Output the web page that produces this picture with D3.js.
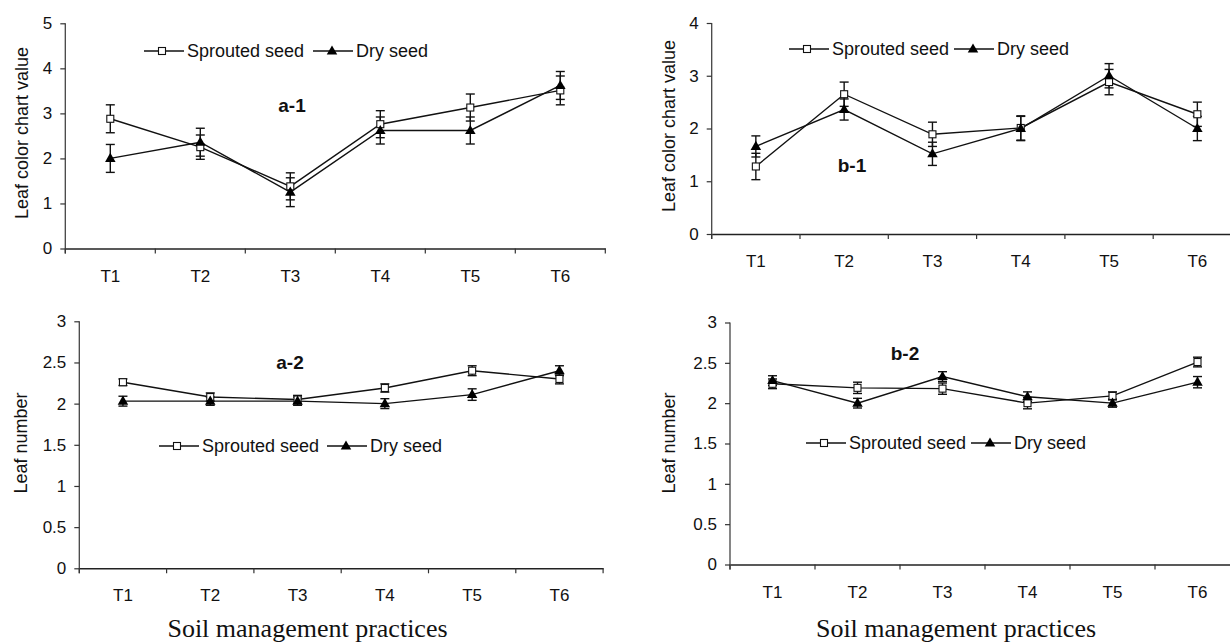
<!DOCTYPE html>
<html>
<head>
<meta charset="utf-8">
<script src="https://cdn.jsdelivr.net/npm/d3@7"></script>
<style>
html,body{margin:0;padding:0;background:#fff;}
svg{display:block;}
text{font-family:"Liberation Sans",Arial,sans-serif;fill:#111;}
</style>
</head>
<body>
<svg id="chart" width="1230" height="643"></svg>
<script>
const categories = ["T1","T2","T3","T4","T5","T6"];

const a1Sprouted = [2.88, 2.25, 1.38, 2.76, 3.13, 3.51];
const a1SproutedErr = [0.31, 0.27, 0.30, 0.30, 0.30, 0.32];
const a1Dry = [2.00, 2.36, 1.25, 2.62, 2.62, 3.62];
const a1DryErr = [0.31, 0.31, 0.32, 0.30, 0.30, 0.31];

const b1Sprouted = [1.28, 2.65, 1.89, 2.01, 2.88, 2.27];
const b1SproutedErr = [0.25, 0.23, 0.23, 0.23, 0.24, 0.23];
const b1Dry = [1.66, 2.36, 1.52, 2.00, 3.00, 2.00];
const b1DryErr = [0.20, 0.20, 0.22, 0.23, 0.23, 0.23];

const a2Sprouted = [2.26, 2.08, 2.05, 2.19, 2.40, 2.30];
const a2SproutedErr = [0.04, 0.05, 0.05, 0.05, 0.06, 0.06];
const a2Dry = [2.03, 2.03, 2.03, 2.00, 2.11, 2.40];
const a2DryErr = [0.06, 0.05, 0.05, 0.06, 0.07, 0.06];

const b2Sprouted = [2.24, 2.19, 2.18, 2.00, 2.09, 2.51];
const b2SproutedErr = [0.06, 0.07, 0.07, 0.07, 0.05, 0.06];
const b2Dry = [2.28, 2.00, 2.33, 2.08, 2.00, 2.26];
const b2DryErr = [0.06, 0.06, 0.06, 0.06, 0.05, 0.07];

const yTicksTop1 = [0,1,2,3,4,5];
const yTicksTop2 = [0,1,2,3,4];
const yTicksBottom = [0,0.5,1,1.5,2,2.5,3];

const seriesNames = ["Sprouted seed","Dry seed"];
const panelLabels = ["a-1","b-1","a-2","b-2"];
const yTitles = ["Leaf color chart value","Leaf number"];
const xTitle = "Soil management practices";

const svg = d3.select("#chart");

const panels = [
  {label:panelLabels[0], sp:a1Sprouted, spE:a1SproutedErr, dr:a1Dry, drE:a1DryErr, ticks:yTicksTop1,
   x0:65.3, bw:90, y0:248.5, yTop:23.3, yTitle:yTitles[0], yTitleX:22, yTitleY:133,
   leg:{sx:162, tx:332, y:51}, lab:{x:292, y:112}, xt:null},
  {label:panelLabels[1], sp:b1Sprouted, spE:b1SproutedErr, dr:b1Dry, drE:b1DryErr, ticks:yTicksTop2,
   x0:711.7, bw:88.3, y0:234, yTop:23, yTitle:yTitles[0], yTitleX:669, yTitleY:126,
   leg:{sx:807, tx:973, y:49}, lab:{x:852, y:172}, xt:null},
  {label:panelLabels[2], sp:a2Sprouted, spE:a2SproutedErr, dr:a2Dry, drE:a2DryErr, ticks:yTicksBottom,
   x0:79.3, bw:87.3, y0:568.3, yTop:321.3, yTitle:yTitles[1], yTitleX:21, yTitleY:443,
   leg:{sx:177, tx:346, y:446}, lab:{x:290, y:369}, xt:{x:307.5, y:637}},
  {label:panelLabels[3], sp:b2Sprouted, spE:b2SproutedErr, dr:b2Dry, drE:b2DryErr, ticks:yTicksBottom,
   x0:730, bw:85, y0:564.5, yTop:322.5, yTitle:yTitles[1], yTitleX:669, yTitleY:443,
   leg:{sx:824, tx:990, y:443}, lab:{x:905, y:360}, xt:{x:956, y:637}}
];

const tri = d3.symbol().type(d3.symbolTriangle).size(48);

function drawPanel(p){
  const g = svg.append("g");
  const x = d3.scaleBand().domain(categories).range([p.x0, p.x0 + p.bw*categories.length]).padding(0);
  const yMax = p.ticks[p.ticks.length-1];
  const y = d3.scaleLinear().domain([0, yMax]).range([p.y0, p.yTop]);
  const cx = c => x(c) + x.bandwidth()/2;

  // y axis
  const ya = g.append("g").attr("transform", `translate(${p.x0},0)`)
    .call(d3.axisLeft(y).tickValues(p.ticks).tickSize(5).tickPadding(8).tickFormat(d3.format("")));
  ya.select(".domain").attr("stroke","#444").attr("stroke-width",1.3).attr("d", `M0,${p.y0+5}V${p.yTop}`);
  ya.selectAll(".tick line").attr("stroke","#333").attr("stroke-width",1.2);
  ya.selectAll(".tick text").style("font-size","17px").attr("fill","#111");

  // x axis
  const xa = g.append("g").attr("transform", `translate(0,${p.y0})`)
    .call(d3.axisBottom(x).tickSize(0).tickPadding(21));
  xa.select(".domain").attr("stroke","#222").attr("stroke-width",1.5);
  xa.selectAll(".tick text").style("font-size","17px").attr("fill","#111");
  const bounds = categories.map(c => x(c)).concat([x.range()[1]]);
  g.selectAll(".bt").data(bounds).enter().append("line")
    .attr("x1", d=>d).attr("x2", d=>d).attr("y1", p.y0).attr("y2", p.y0+5)
    .attr("stroke","#333").attr("stroke-width",1.2);

  // y title
  g.append("text").attr("transform", `translate(${p.yTitleX},${p.yTitleY}) rotate(-90)`)
    .attr("text-anchor","middle").attr("dominant-baseline","central")
    .style("font-size","18px").text(p.yTitle);

  // lines
  const line = d3.line().x((d,i)=>cx(categories[i])).y(d=>y(d));
  g.append("path").datum(p.sp).attr("d", line).attr("fill","none").attr("stroke","#111").attr("stroke-width",1.4);
  g.append("path").datum(p.dr).attr("d", line).attr("fill","none").attr("stroke","#111").attr("stroke-width",1.4);

  // error bars
  function err(vals, errs){
    vals.forEach((v,i)=>{
      const xc = cx(categories[i]);
      const lo = y(v - errs[i]), hi = y(v + errs[i]);
      g.append("line").attr("x1",xc).attr("x2",xc).attr("y1",lo).attr("y2",hi).attr("stroke","#111").attr("stroke-width",1.4);
      g.append("line").attr("x1",xc-4.5).attr("x2",xc+4.5).attr("y1",lo).attr("y2",lo).attr("stroke","#111").attr("stroke-width",1.4);
      g.append("line").attr("x1",xc-4.5).attr("x2",xc+4.5).attr("y1",hi).attr("y2",hi).attr("stroke","#111").attr("stroke-width",1.4);
    });
  }
  err(p.sp, p.spE);
  err(p.dr, p.drE);

  // markers
  g.selectAll(".sq").data(p.sp).enter().append("rect")
    .attr("x",(d,i)=>cx(categories[i])-3.5).attr("y",d=>y(d)-3.5)
    .attr("width",7).attr("height",7).attr("fill","#fff").attr("stroke","#111").attr("stroke-width",1.1);
  g.selectAll(".tr").data(p.dr).enter().append("path")
    .attr("d", tri).attr("transform",(d,i)=>`translate(${cx(categories[i])},${y(d)+0.5})`).attr("fill","#000");

  // legend
  const L = p.leg;
  g.append("line").attr("x1",L.sx-18).attr("x2",L.sx+22).attr("y1",L.y).attr("y2",L.y).attr("stroke","#111").attr("stroke-width",1.4);
  g.append("rect").attr("x",L.sx-3.5).attr("y",L.y-3.5).attr("width",7).attr("height",7).attr("fill","#fff").attr("stroke","#111").attr("stroke-width",1.1);
  g.append("text").attr("x",L.sx+25).attr("y",L.y).attr("dominant-baseline","central").style("font-size","18px").text(seriesNames[0]);
  g.append("line").attr("x1",L.tx-19).attr("x2",L.tx+21).attr("y1",L.y).attr("y2",L.y).attr("stroke","#111").attr("stroke-width",1.4);
  g.append("path").attr("d",tri).attr("transform",`translate(${L.tx},${L.y+0.5})`).attr("fill","#000");
  g.append("text").attr("x",L.tx+24).attr("y",L.y).attr("dominant-baseline","central").style("font-size","18px").text(seriesNames[1]);

  // panel label
  g.append("text").attr("x",p.lab.x).attr("y",p.lab.y).attr("text-anchor","middle")
    .style("font-size","19px").style("font-weight","bold").text(p.label);

  if (p.xt){
    g.append("text").attr("x",p.xt.x).attr("y",p.xt.y).attr("text-anchor","middle")
      .style("font-family","'Liberation Serif','Times New Roman',serif").style("font-size","26px").text(xTitle);
  }
}

panels.forEach(drawPanel);
</script>
</body>
</html>
